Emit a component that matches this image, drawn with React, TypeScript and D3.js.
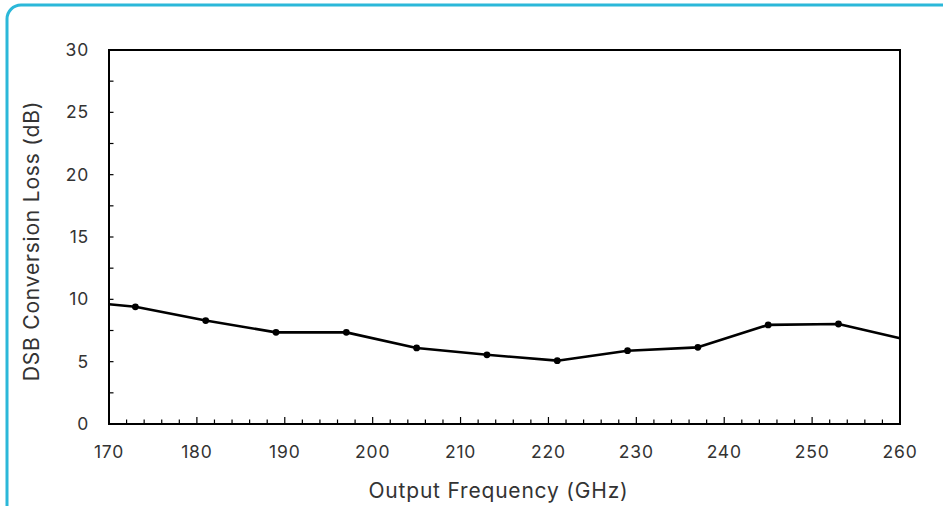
import React from "react";
import * as d3 from "d3";

const W = 943;
const H = 506;
const margin = { top: 50, right: 43, bottom: 82, left: 109 };

// measured points (GHz, dB)
const freqs = [173, 181, 189, 197, 205, 213, 221, 229, 237, 245, 253];
const loss = [9.4, 8.3, 7.35, 7.35, 6.1, 5.55, 5.08, 5.88, 6.15, 7.95, 8.02];
// line continues past the frame edges, no markers there
const edgeFreqs = [170, 260];
const edgeLoss = [9.6, 6.87];

const xTicks = [170, 180, 190, 200, 210, 220, 230, 240, 250, 260];
const yTicks = [0, 5, 10, 15, 20, 25, 30];

const font = "Inter, 'Noto Sans', sans-serif";
const textColor = "#333";

const App = () => {
  const x = d3.scaleLinear().domain([170, 260]).range([margin.left, W - margin.right]);
  const y = d3.scaleLinear().domain([0, 30]).range([H - margin.bottom, margin.top]);

  const pts: [number, number][] = [
    [edgeFreqs[0], edgeLoss[0]],
    ...freqs.map((f, i) => [f, loss[i]] as [number, number]),
    [edgeFreqs[1], edgeLoss[1]],
  ];
  const line = d3
    .line<[number, number]>()
    .x((d) => x(d[0]))
    .y((d) => y(d[1]));

  const minorX = d3.range(170, 260.1, 2);
  const minorY = d3.range(0, 30.1, 2.5);
  const x0 = x(170);
  const x1 = x(260);
  const y0 = y(0);
  const y1 = y(30);

  return (
    <svg
      width={W}
      height={H}
      style={{ position: "absolute", left: 0, top: 0, background: "#fff" }}
    >
      <rect x={7} y={5} width={960} height={540} rx={14} fill="none" stroke="#2bb8d9" strokeWidth={3} />

      {/* ticks point inward */}
      <g stroke="#000" strokeWidth={1.2}>
        {minorX.map((v) => (
          <line key={"mx" + v} x1={x(v)} x2={x(v)} y1={y0} y2={y0 - (v % 10 === 0 ? 7 : 4.5)} />
        ))}
        {minorY.map((v) => (
          <line key={"my" + v} x1={x0} x2={x0 + 4.5} y1={y(v)} y2={y(v)} />
        ))}
      </g>

      <g fill={textColor} fontFamily={font} fontSize={17.5} letterSpacing={0.8}>
        {xTicks.map((v) => (
          <text key={"xt" + v} x={x(v)} y={y0 + 34} textAnchor="middle">
            {v}
          </text>
        ))}
        {yTicks.map((v) => (
          <text key={"yt" + v} x={x0 - 20} y={y(v)} dy="0.35em" textAnchor="end">
            {v}
          </text>
        ))}
      </g>

      <path d={line(pts) ?? ""} fill="none" stroke="#000" strokeWidth={2.6} strokeLinejoin="round" />
      {freqs.map((f, i) => (
        <circle key={"p" + f} cx={x(f)} cy={y(loss[i])} r={3.4} fill="#000" />
      ))}

      <rect x={x0} y={y1} width={x1 - x0} height={y0 - y1} fill="none" stroke="#000" strokeWidth={2} />

      <text
        x={(x0 + x1) / 2 - 6}
        y={498}
        textAnchor="middle"
        fontFamily={font}
        fontSize={21}
        letterSpacing={0.8}
        fill={textColor}
      >
        Output Frequency (GHz)
      </text>
      <text
        transform={`translate(39, ${(y0 + y1) / 2 + 4}) rotate(-90)`}
        textAnchor="middle"
        fontFamily={font}
        fontSize={21}
        letterSpacing={0.8}
        fill={textColor}
      >
        DSB Conversion Loss (dB)
      </text>
    </svg>
  );
};

export default App;
